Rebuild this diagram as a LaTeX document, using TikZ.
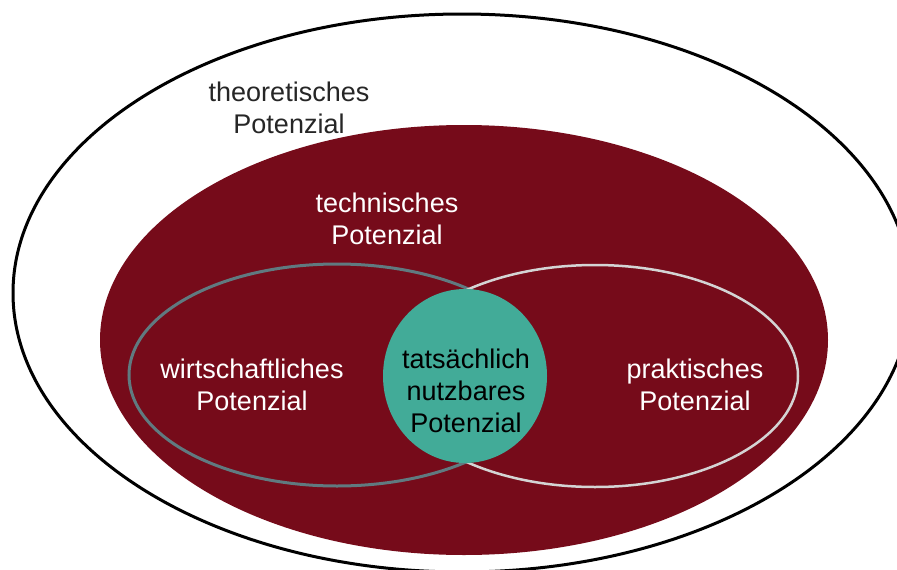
\documentclass[tikz,border=0pt]{standalone}
\usepackage{fontspec}
\setmainfont{Liberation Sans}
\usetikzlibrary{shapes.geometric}

\definecolor{potred}{RGB}{118,11,26}
\definecolor{potteal}{RGB}{66,171,152}
\definecolor{potslate}{RGB}{96,122,128}
\definecolor{potlight}{RGB}{212,212,212}
\definecolor{pottext}{RGB}{38,38,38}

\tikzset{
  area/.style={ellipse, inner sep=0pt, outer sep=0pt},
  label/.style={inner sep=0pt, align=center,
    font=\fontsize{27}{32}\selectfont},
}

\begin{document}
\begin{tikzpicture}[x=1pt, y=-1pt]
  \useasboundingbox (0,0) rectangle (897,570);
  \clip (0,0) rectangle (897,570);
  \fill[white] (0,0) rectangle (897,570);

  % nested potential areas
  \node[area, draw=black, line width=3pt, fill=white,
        minimum width=898pt, minimum height=558pt] (theo) at (462,293) {};
  \node[area, fill=potred,
        minimum width=728pt, minimum height=430pt] (tech) at (464,340) {};
  \node[area, draw=potslate, line width=3pt,
        minimum width=416pt, minimum height=222pt] (wirt) at (337,375) {};
  \node[area, draw=potlight, line width=2.5pt,
        minimum width=406pt, minimum height=222pt] (prak) at (595,376) {};
  \node[area, fill=potteal,
        minimum width=164pt, minimum height=174pt] (nutz) at (465,376) {};

  % labels
  \node[label, text=pottext] (ltheo) at (289,108) {theoretisches\\Potenzial};
  \node[label, text=white] (ltech) at (387,219) {technisches\\Potenzial};
  \node[label, text=white] (lwirt) at (252,385) {wirtschaftliches\\Potenzial};
  \node[label, text=white] (lprak) at (695,385) {praktisches\\Potenzial};
  \node[label, text=black] (lnutz) at (466,391) {tatsächlich\\nutzbares\\Potenzial};
\end{tikzpicture}
\end{document}
